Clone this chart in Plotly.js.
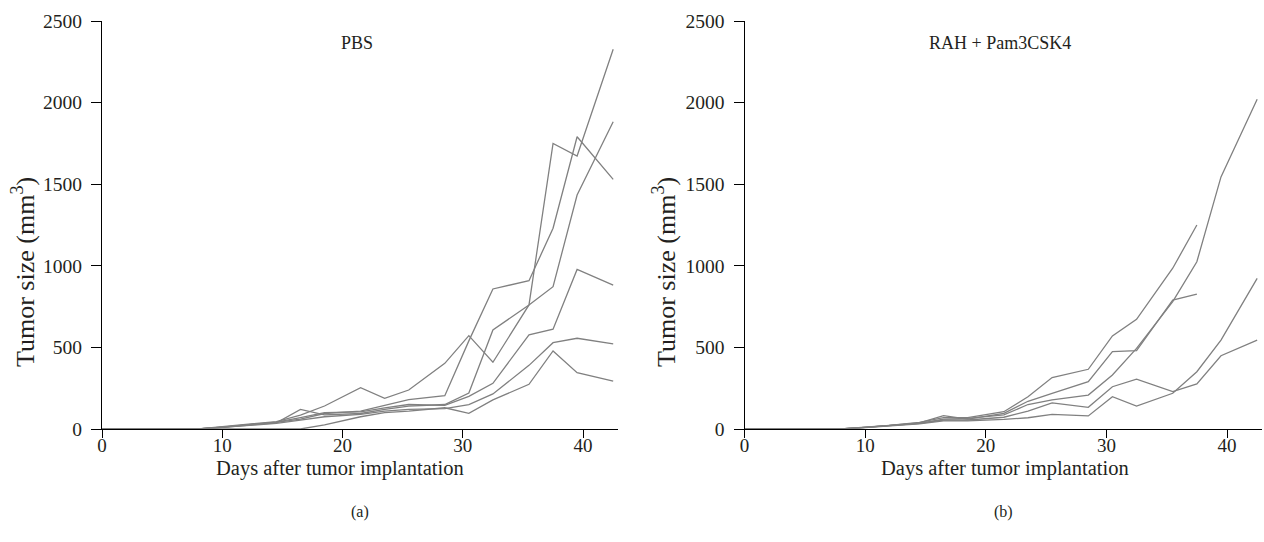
<!DOCTYPE html>
<html>
<head>
<meta charset="utf-8">
<script src="https://cdn.plot.ly/plotly-3.0.1.min.js"></script>
<style>html,body{margin:0;padding:0;background:#fff;}#chart{width:1264px;height:542px;}</style>
</head>
<body>
<div id="chart"></div>
<script>
// Measurement days (days after tumor implantation)
const days = [0, 8, 10, 12, 14.5, 16.5, 18.5, 21.5, 23.5, 25.5, 28.5, 30.5, 32.5, 35.5, 37.5, 39.5, 42.5];

// Panel (a) PBS – individual mice (mm^3)
const pbs1 = [0, 0, 15, 28, 45, 85, 141, 253, 188, 239, 402, 572, 409, 760, 1750, 1673, 2327];
const pbs2 = [0, 0, 12, 25, 40, 60, 95, 110, 147, 180, 204, 540, 858, 909, 1230, 1791, 1530];
const pbs3 = [0, 0, 10, 22, 38, 120, 86, 95, 120, 140, 150, 220, 607, 760, 872, 1434, 1883];
const pbs4 = [0, 0, 12, 24, 42, 70, 100, 105, 130, 150, 145, 200, 280, 577, 612, 978, 882];
const pbs5 = [0, 0, 10, 20, 35, 55, 75, 90, 110, 120, 125, 150, 215, 390, 529, 556, 521];
const pbs6 = [0, 0, 0, 0, 0, 0, 25, 75, 100, 110, 130, 96, 178, 274, 478, 345, 294];

// Panel (b) RAH + Pam3CSK4 – individual mice (mm^3)
const rah1 = [0, 0, 12, 22, 40, 70, 70, 106, 198, 315, 366, 570, 672, 985, 1250];
const rah2 = [0, 0, 10, 22, 38, 82, 60, 96, 170, 219, 290, 474, 480, 790, 827];
const rah3 = [0, 0, 10, 20, 35, 60, 65, 86, 150, 178, 208, 331, 494, 780, 1025, 1545, 2020];
const rah4 = [0, 0, 10, 20, 35, 55, 55, 72, 110, 160, 133, 259, 306, 229, 276, 449, 545];
const rah5 = [0, 0, 8, 18, 32, 50, 50, 59, 69, 90, 80, 198, 141, 219, 351, 545, 923];

const xTicks = [0, 10, 20, 30, 40];
const yTicks = [0, 500, 1000, 1500, 2000, 2500];
const titleA = "PBS";
const titleB = "RAH + Pam3CSK4";
const xTitle = "Days after tumor implantation";
const yTitle = "Tumor size (mm<sup>3</sup>)";
const panelA = "(a)";
const panelB = "(b)";

const W = 1264, H = 542;
const lineStyle = {color: "#808080", width: 1.3};
const font = "Liberation Serif, Times New Roman, serif";
const ink = "#231f20";

function tr(y, xa, ya) {
  return {x: days.slice(0, y.length), y: y, xaxis: xa, yaxis: ya, type: "scatter",
          mode: "lines", line: lineStyle, hoverinfo: "skip", showlegend: false};
}
const traces = [pbs1, pbs2, pbs3, pbs4, pbs5, pbs6].map(s => tr(s, "x", "y"))
  .concat([rah1, rah2, rah3, rah4, rah5].map(s => tr(s, "x2", "y2")));

const yb = 1 - 429 / H, yt = 1 - 21 / H;
function xax(d, anchor) {
  return {domain: d, anchor: anchor, range: [0, 42.9], tickvals: xTicks, ticktext: xTicks.map(String),
          showline: true, linecolor: "#000", linewidth: 1, ticks: "outside", ticklen: 8,
          tickcolor: "#000", tickwidth: 1, showgrid: false, zeroline: false, ticklabelstandoff: -9,
          tickfont: {family: font, size: 19, color: ink}, fixedrange: true};
}
function yax(anchor) {
  return {domain: [yb, yt], anchor: anchor, range: [0, 2500], tickvals: yTicks, ticktext: yTicks.map(String),
          showline: true, linecolor: "#000", linewidth: 1, ticks: "outside", ticklen: 10,
          tickcolor: "#000", tickwidth: 1, showgrid: false, zeroline: false, ticklabelstandoff: 5,
          tickfont: {family: font, size: 19.5, color: ink}, fixedrange: true};
}
function ann(text, px, py, size, angle) {
  return {text: text, x: px / W, y: 1 - py / H, xref: "paper", yref: "paper", showarrow: false,
          xanchor: "center", yanchor: "middle", textangle: angle || 0,
          font: {family: font, size: size, color: ink}};
}

const layout = {
  width: W, height: H, margin: {l: 0, r: 0, t: 0, b: 0},
  paper_bgcolor: "#fff", plot_bgcolor: "#fff",
  xaxis: xax([102 / W, 618 / W], "y"),
  yaxis: yax("x"),
  xaxis2: xax([744.5 / W, 1262 / W], "y2"),
  yaxis2: yax("x2"),
  annotations: [
    ann(titleA, 357, 43, 18),
    ann(titleB, 1000, 43, 18),
    ann(yTitle, 23, 272, 26, -90),
    ann(yTitle, 664, 272, 26, -90),
    ann(xTitle, 340, 468, 20.5),
    ann(xTitle, 1005, 468, 20.5),
    ann(panelA, 360, 512, 16),
    ann(panelB, 1003, 512, 16)
  ]
};
Plotly.newPlot("chart", traces, layout, {staticPlot: true, displayModeBar: false});
</script>
</body>
</html>
